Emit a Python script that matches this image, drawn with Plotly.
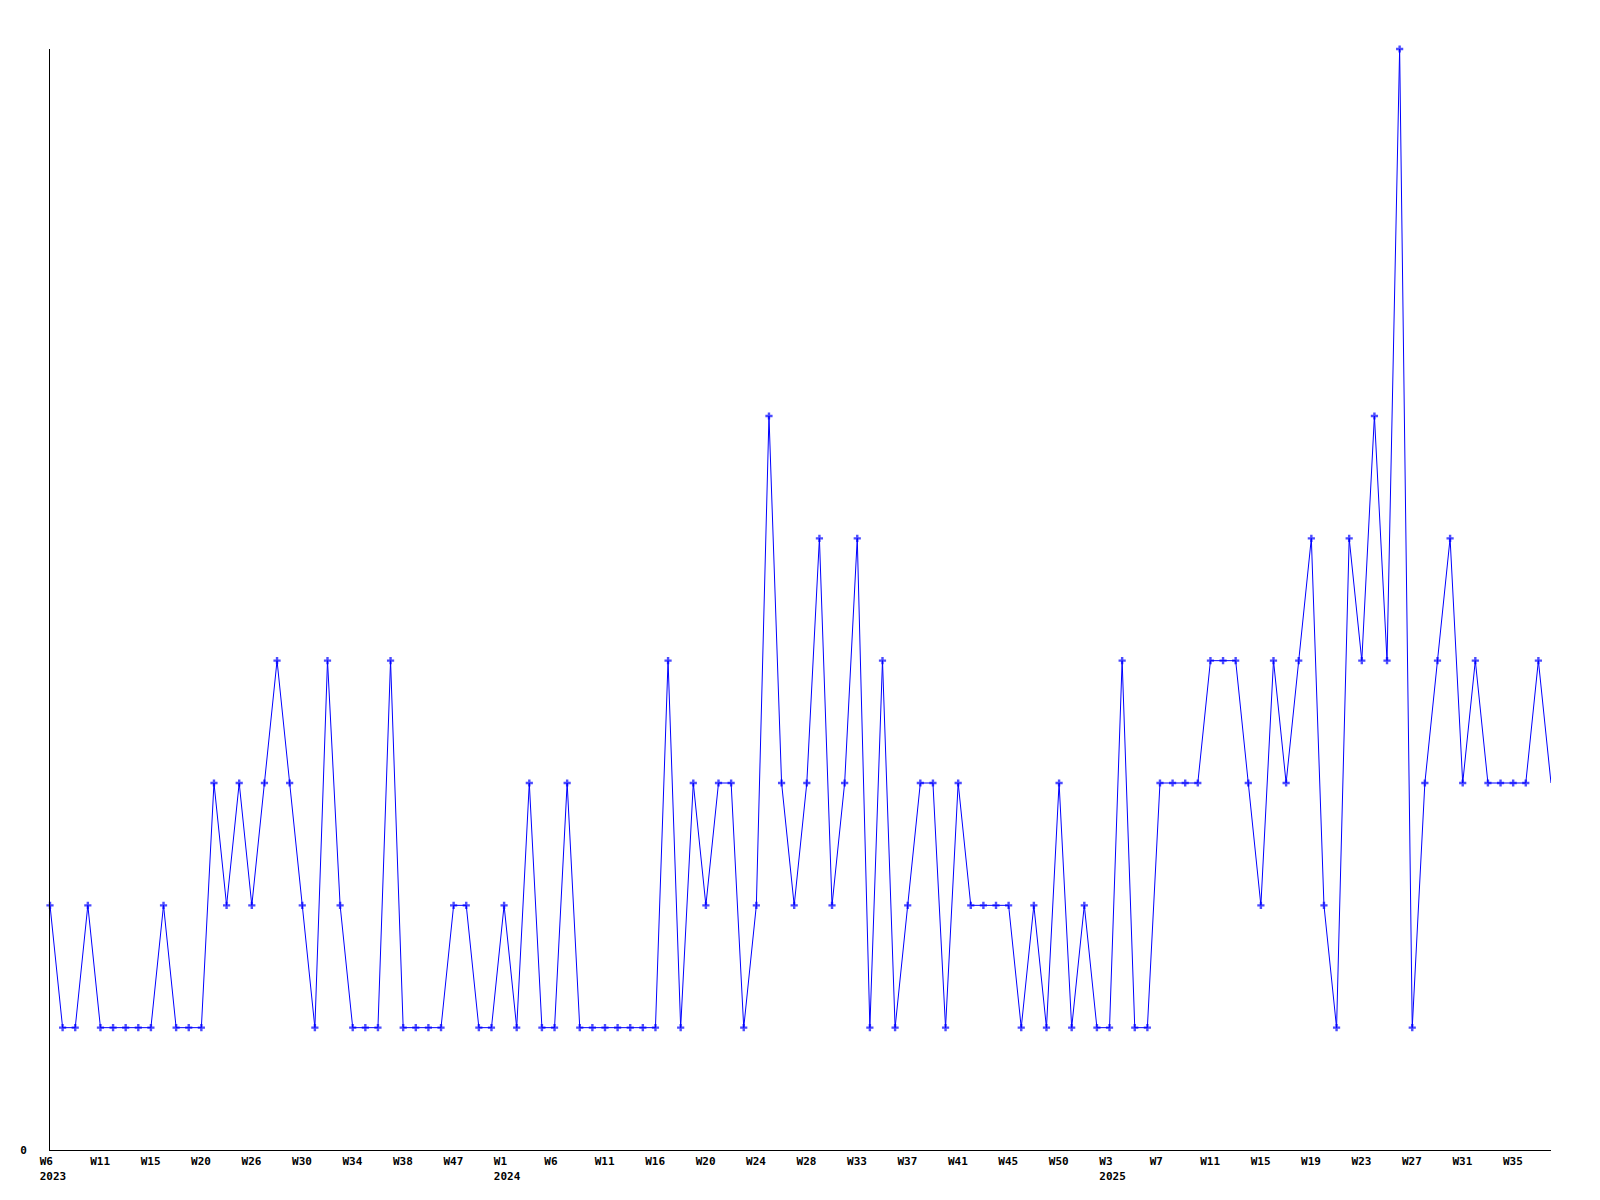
import plotly.graph_objects as go

# Weekly values (one point per recorded week)
values = [
    2, 1, 1, 2, 1, 1, 1, 1, 1, 2,
    1, 1, 1, 3, 2, 3, 2, 3, 4, 3,
    2, 1, 4, 2, 1, 1, 1, 4, 1, 1,
    1, 1, 2, 2, 1, 1, 2, 1, 3, 1,
    1, 3, 1, 1, 1, 1, 1, 1, 1, 4,
    1, 3, 2, 3, 3, 1, 2, 6, 3, 2,
    3, 5, 2, 3, 5, 1, 4, 1, 2, 3,
    3, 1, 3, 2, 2, 2, 2, 1, 2, 1,
    3, 1, 2, 1, 1, 4, 1, 1, 3, 3,
    3, 3, 4, 4, 4, 3, 2, 4, 3, 4,
    5, 2, 1, 5, 4, 6, 4, 9, 1, 3,
    4, 5, 3, 4, 3, 3, 3, 3, 4, 3,
]

# Tick labels (every 4th point)
tick_index = [0, 4, 8, 12, 16, 20, 24, 28, 32, 36, 40, 44, 48, 52, 56,
              60, 64, 68, 72, 76, 80, 84, 88, 92, 96, 100, 104, 108, 112, 116]
tick_weeks = ["W6", "W11", "W15", "W20", "W26", "W30", "W34", "W38", "W47",
              "W1", "W6", "W11", "W16", "W20", "W24", "W28", "W33", "W37",
              "W41", "W45", "W50", "W3", "W7", "W11", "W15", "W19", "W23",
              "W27", "W31", "W35"]
tick_years = {0: "2023", 9: "2024", 21: "2025"}

x = list(range(len(values)))
ticktext = []
for i, w in enumerate(tick_weeks):
    # pad to a fixed width so the monospace labels line up on their left edge
    t = w + "\u00a0" * (4 - len(w))
    if i in tick_years:
        t += "<br>" + tick_years[i]
    ticktext.append(t)

sizes = [6] * len(values)
sizes[-1] = 0

fig = go.Figure(go.Scatter(
    x=x, y=values, mode="lines+markers",
    line=dict(color="#0000ff", width=1),
    marker=dict(symbol="cross", size=sizes, color="#0000ff", line=dict(width=0)),
    cliponaxis=False, hoverinfo="skip",
))

font = dict(family="DejaVu Sans Mono", size=11, color="black", weight="bold")

fig.update_layout(
    width=1584, height=1184,
    margin=dict(l=42, r=41, t=41, b=42),
    paper_bgcolor="white", plot_bgcolor="white",
    showlegend=False,
    xaxis=dict(
        range=[0, len(values) - 1], tickmode="array",
        tickvals=tick_index, ticktext=ticktext,
        showgrid=False, zeroline=False, showline=True,
        linecolor="black", linewidth=1, ticks="",
        tickfont=font, ticklabelshift=3, ticklabelstandoff=1,
        automargin=False,
    ),
    yaxis=dict(
        range=[0, 9], tickmode="array", tickvals=[0], ticktext=["0"],
        showgrid=False, zeroline=False, showline=True,
        linecolor="black", linewidth=1, ticks="",
        tickfont=font, ticklabelstandoff=20, automargin=False,
    ),
)

fig.write_html("out.html")
